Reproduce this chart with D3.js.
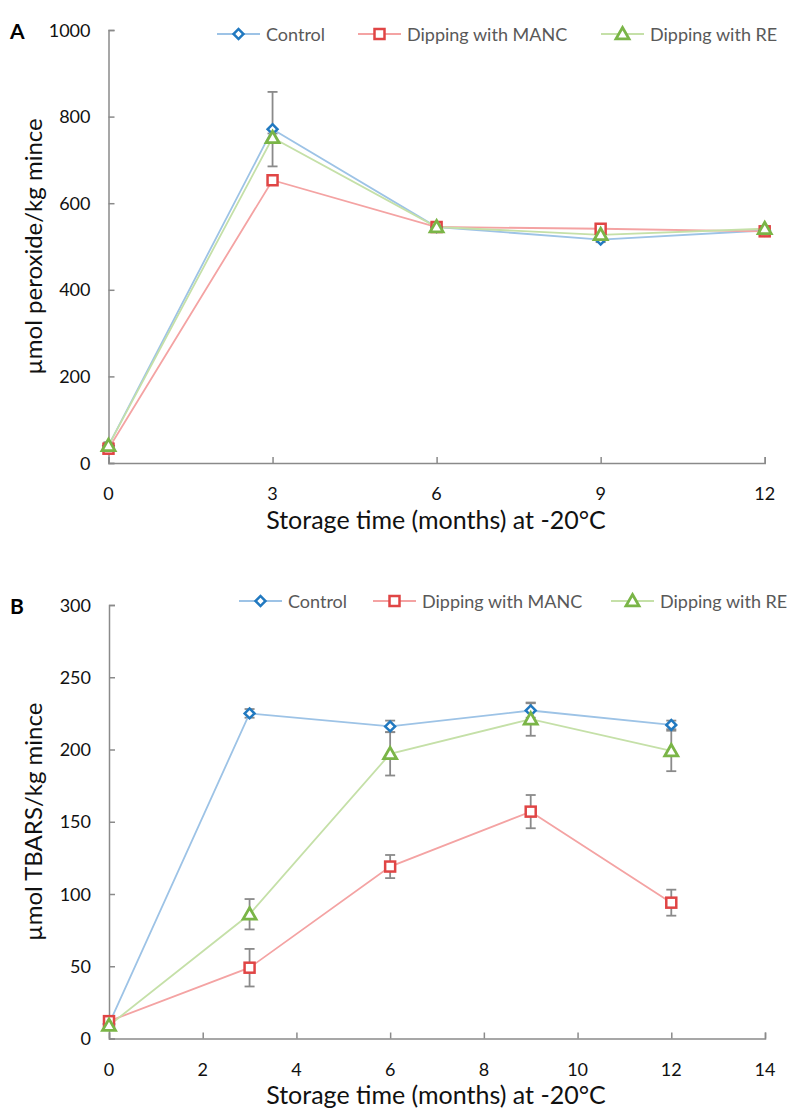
<!DOCTYPE html>
<html>
<head>
<meta charset="utf-8">
<script src="https://cdn.jsdelivr.net/npm/d3@7"></script>
<style>
  body { margin: 0; background: #fff; }
  text { font-family: Lato, "Open Sans", sans-serif; }
</style>
</head>
<body>
<svg id="chart" width="792" height="1109"></svg>
<script>
// panel A: peroxide
const monthsA = [0, 3, 6, 9, 12];
const controlA = [40, 771, 545, 516, 537];
const mancA = [33, 653, 545, 541, 535];
const reA = [40, 751, 545, 527, 541];
const controlErrA = [8, 86, 6, 6, 6];
const mancErrA = [5, 8, 6, 6, 6];
const reErrA = [6, 10, 6, 6, 6];
const yTicksA = [0, 200, 400, 600, 800, 1000];
const xTicksA = [0, 3, 6, 9, 12];

// panel B: TBARS
const monthsB = [0, 3, 6, 9, 12];
const controlB = [10, 225, 216, 227, 217];
const mancB = [12, 49, 119, 157, 94];
const reB = [9, 86, 197, 221, 199];
const controlErrB = [2, 3, 4, 5, 3];
const mancErrB = [2, 13, 8, 11.5, 9];
const reErrB = [2, 10.5, 15, 11.5, 14];
const yTicksB = [0, 50, 100, 150, 200, 250, 300];
const xTicksB = [0, 2, 4, 6, 8, 10, 12, 14];

const seriesNames = ['Control', 'Dipping with MANC', 'Dipping with RE'];
const lineColors = ['#9dc3e6', '#f4a3a3', '#c5e0a8'];
const markColors = ['#2179c0', '#e04545', '#7ab547'];
const shapes = ['diamond', 'square', 'triangle'];

const svg = d3.select('#chart');
const axisColor = '#8a8a8a';

// hollow excel-style markers
function marker(g, shape, x, y, color) {
  if (shape === 'diamond') {
    g.append('rect').attr('x', x - 3.5).attr('y', y - 3.5).attr('width', 7).attr('height', 7)
      .attr('transform', 'rotate(45,' + x + ',' + y + ')')
      .attr('fill', '#fff').attr('stroke', color).attr('stroke-width', 2.5);
  } else if (shape === 'square') {
    g.append('rect').attr('x', x - 5).attr('y', y - 5).attr('width', 10).attr('height', 10)
      .attr('fill', '#fff').attr('stroke', color).attr('stroke-width', 2.5);
  } else {
    const s = 6.5;
    g.append('path')
      .attr('d', 'M' + x + ',' + (y - s) + 'L' + (x + s) + ',' + (y + s * 0.75) + 'L' + (x - s) + ',' + (y + s * 0.75) + 'Z')
      .attr('fill', '#fff').attr('stroke', color).attr('stroke-width', 2.8).attr('stroke-linejoin', 'miter');
  }
}

function drawPanel(cfg) {
  const x = d3.scaleLinear().domain(cfg.xDomain).range(cfg.xRange);
  const y = d3.scaleLinear().domain(cfg.yDomain).range(cfg.yRange);
  const g = svg.append('g');

  // axes, ticks pointing inward
  const yAxis = g.append('g').attr('transform', 'translate(' + cfg.xRange[0] + ',0)')
    .call(d3.axisRight(y).tickValues(cfg.yTicks).tickSize(6).tickFormat(''));
  const xAxis = g.append('g').attr('transform', 'translate(0,' + cfg.yRange[0] + ')')
    .call(d3.axisTop(x).tickValues(cfg.xTicks).tickSize(6).tickFormat(''));
  [yAxis, xAxis].forEach(a => {
    a.select('.domain').attr('stroke', axisColor).attr('stroke-width', 1.5);
    a.selectAll('.tick line').attr('stroke', axisColor).attr('stroke-width', 1.5);
  });
  // tick labels
  g.selectAll('.ylab').data(cfg.yTicks).enter().append('text')
    .attr('x', cfg.xRange[0] - 18).attr('y', d => y(d) + 6.5)
    .attr('text-anchor', 'end').attr('font-size', 18).attr('fill', '#111').text(d => d);
  g.selectAll('.xlab').data(cfg.xTicks).enter().append('text')
    .attr('x', d => x(d)).attr('y', cfg.yRange[0] + 37)
    .attr('text-anchor', 'middle').attr('font-size', 18).attr('fill', '#111').text(d => d);

  // titles
  g.append('text').attr('x', 436).attr('y', cfg.yRange[0] + cfg.xTitleOff).attr('text-anchor', 'middle')
    .attr('font-size', 25).attr('fill', '#111').text('Storage time (months) at -20\u00b0C');
  g.append('text').attr('transform', 'translate(42,' + ((cfg.yRange[0] + cfg.yRange[1]) / 2) + ') rotate(-90)')
    .attr('text-anchor', 'middle').attr('font-size', 24).attr('fill', '#111').text(cfg.yTitle);
  g.append('text').attr('x', 10).attr('y', cfg.yRange[1] + 9).attr('font-size', 21)
    .attr('font-weight', 'bold').attr('fill', '#000').text(cfg.letter);

  // error bars
  cfg.series.forEach((vals, i) => {
    vals.forEach((v, j) => {
      const e = cfg.errs[i][j];
      const cx = x(cfg.months[j]);
      const eg = g.append('g').attr('stroke', '#8a8a8a').attr('stroke-width', 1.8);
      eg.append('line').attr('x1', cx).attr('x2', cx).attr('y1', y(v - e)).attr('y2', y(v + e));
      eg.append('line').attr('x1', cx - 5).attr('x2', cx + 5).attr('y1', y(v - e)).attr('y2', y(v - e));
      eg.append('line').attr('x1', cx - 5).attr('x2', cx + 5).attr('y1', y(v + e)).attr('y2', y(v + e));
    });
  });

  // lines
  const line = d3.line().x((d, j) => x(cfg.months[j])).y(d => y(d));
  cfg.series.forEach((vals, i) => {
    g.append('path').datum(vals).attr('d', line).attr('fill', 'none')
      .attr('stroke', lineColors[i]).attr('stroke-width', 1.8);
  });
  // markers
  cfg.series.forEach((vals, i) => {
    vals.forEach((v, j) => marker(g, shapes[i], x(cfg.months[j]), y(v), markColors[i]));
  });

  // legend
  cfg.legend.forEach((lx, i) => {
    const ly = cfg.legendY;
    g.append('line').attr('x1', lx).attr('x2', lx + 43).attr('y1', ly).attr('y2', ly)
      .attr('stroke', lineColors[i]).attr('stroke-width', 1.8);
    marker(g, shapes[i], lx + 21.5, ly, markColors[i]);
    g.append('text').attr('x', lx + 49).attr('y', ly + 6.5).attr('font-size', 18)
      .attr('fill', '#595959').text(seriesNames[i]);
  });
}

drawPanel({
  letter: 'A', months: monthsA,
  xDomain: [0, 12], xRange: [108.5, 764.7],
  yDomain: [0, 1000], yRange: [463, 30],
  yTicks: yTicksA, xTicks: xTicksA,
  series: [controlA, mancA, reA], errs: [controlErrA, mancErrA, reErrA],
  yTitle: '\u00b5mol peroxide/kg mince',
  legend: [217, 358, 601], legendY: 34, xTitleOff: 66
});

drawPanel({
  letter: 'B', months: monthsB,
  xDomain: [0, 14], xRange: [109, 765],
  yDomain: [0, 300], yRange: [1038.5, 605],
  yTicks: yTicksB, xTicks: xTicksB,
  series: [controlB, mancB, reB], errs: [controlErrB, mancErrB, reErrB],
  yTitle: '\u00b5mol TBARS/kg mince',
  legend: [239, 373, 611], legendY: 601, xTitleOff: 65
});
</script>
</body>
</html>
